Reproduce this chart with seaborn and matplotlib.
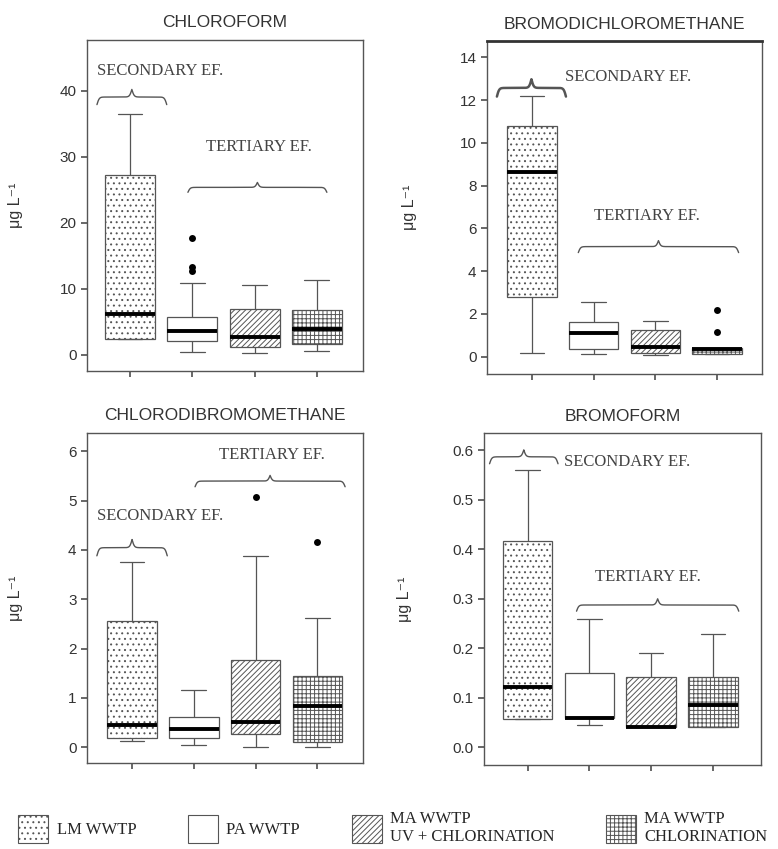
# -*- coding: utf-8 -*-
"""
Trihalomethanes in WWTP effluents: box plots per compound and plant.
Boxes are drawn from the five-number summaries read off the original figure.
"""

import numpy as np
import pandas as pd
import matplotlib
matplotlib.use('Agg')
import matplotlib.pyplot as plt
from matplotlib.patches import Patch
import seaborn as sns

# --- GENERAL SETTINGS ---
sns.set_theme(style='ticks')
plt.rcParams['font.family'] = ['Liberation Sans', 'DejaVu Sans']
plt.rcParams['hatch.linewidth'] = 0.7
serif = ['Liberation Serif', 'DejaVu Serif']
line_col = '#555555'

# --- DATA ---
plants = ['LM', 'PA', 'MA_UV', 'MA_CL']
legend_labels = ['LM WWTP', 'PA WWTP', 'MA WWTP\nUV + CHLORINATION', 'MA WWTP\nCHLORINATION']
hatches = ['...', '', '//////', '++++']

# each row: [lower whisker, Q1, median, Q3, upper whisker]  (µg/L)
chloroform = [[2.3, 2.3, 6.1, 27.2, 36.5],
              [0.45, 2.0, 3.5, 5.7, 10.9],
              [0.2, 1.1, 2.6, 6.9, 10.6],
              [0.6, 1.6, 3.9, 6.7, 11.3]]
chloroform_out_plant = ['PA', 'PA', 'PA']
chloroform_out_value = [12.7, 13.2, 17.7]

bromodichloro = [[0.15, 2.8, 8.63, 10.8, 12.2],
                 [0.12, 0.37, 1.09, 1.6, 2.57],
                 [0.08, 0.19, 0.47, 1.25, 1.68],
                 [0.12, 0.12, 0.34, 0.39, 0.39]]
bromodichloro_out_plant = ['MA_CL', 'MA_CL']
bromodichloro_out_value = [1.17, 2.2]

chlorodibromo = [[0.12, 0.18, 0.45, 2.56, 3.75],
                 [0.05, 0.18, 0.37, 0.61, 1.15],
                 [0.0, 0.26, 0.52, 1.77, 3.87],
                 [0.0, 0.1, 0.84, 1.45, 2.62]]
chlorodibromo_out_plant = ['MA_UV', 'MA_CL']
chlorodibromo_out_value = [5.07, 4.17]

bromoform = [[0.058, 0.058, 0.121, 0.416, 0.56],
             [0.045, 0.06, 0.06, 0.151, 0.259],
             [0.04, 0.04, 0.04, 0.141, 0.191],
             [0.04, 0.04, 0.085, 0.141, 0.229]]
bromoform_out_plant = []
bromoform_out_value = []

# --- PANEL LAYOUT ---
panels = [
    dict(title='CHLOROFORM', stats=chloroform,
         out=(chloroform_out_plant, chloroform_out_value),
         rect=[0.1118, 0.5630, 0.3548, 0.3899], xlim=(-0.69, 3.74),
         ylim=(-2.5, 47.7), yticks=np.arange(0, 41, 10), fmt='{:.0f}', ylab_x=-0.23,
         sec_text=(-0.53, 43.0, 'left'), sec_brace=(-0.53, 0.59, 37.9, 2.3, 1.0),
         ter_text=(2.07, 31.4), ter_brace=(0.93, 3.16, 24.6, 1.5)),
    dict(title='BROMODICHLOROMETHANE', stats=bromodichloro,
         out=(bromodichloro_out_plant, bromodichloro_out_value),
         rect=[0.626, 0.5595, 0.3535, 0.3922], xlim=(-0.73, 3.73),
         ylim=(-0.81, 14.77), yticks=np.arange(0, 15, 2), fmt='{:.0f}', ylab_x=-0.255,
         sec_text=(0.54, 13.1, 'left'), sec_brace=(-0.57, 0.55, 12.17, 0.81, 1.8),
         ter_text=(1.86, 6.58), ter_brace=(0.75, 3.35, 4.87, 0.56)),
    dict(title='CHLORODIBROMOMETHANE', stats=chlorodibromo,
         out=(chlorodibromo_out_plant, chlorodibromo_out_value),
         rect=[0.1118, 0.1013, 0.3548, 0.3887], xlim=(-0.73, 3.74),
         ylim=(-0.32, 6.37), yticks=np.arange(0, 7, 1), fmt='{:.0f}', ylab_x=-0.23,
         sec_text=(-0.57, 4.68, 'left'), sec_brace=(-0.57, 0.57, 3.88, 0.33, 1.0),
         ter_text=(2.27, 5.93), ter_brace=(1.02, 3.45, 5.28, 0.23)),
    dict(title='BROMOFORM', stats=bromoform,
         out=(bromoform_out_plant, bromoform_out_value),
         rect=[0.6221, 0.0989, 0.356, 0.391], xlim=(-0.71, 3.78),
         ylim=(-0.036, 0.635), yticks=np.arange(0, 0.61, 0.1), fmt='{:.1f}', ylab_x=-0.26,
         sec_text=(0.58, 0.5765, 'left'), sec_brace=(-0.62, 0.49, 0.573, 0.028, 1.0),
         ter_text=(1.94, 0.345), ter_brace=(0.79, 3.42, 0.275, 0.025)),
]


def draw_brace(ax, x0, x1, y0, height, lw=1.0):
    # curly brace pointing up: ends at y0, tip at y0 + height
    xs = np.linspace(x0, x1, 401)
    half = xs[:201]
    beta = 55.0
    s = 1 / (1 + np.exp(-beta * (half - half[0]))) + 1 / (1 + np.exp(-beta * (half - half[-1])))
    s = np.concatenate([s, s[-2::-1]])
    ax.plot(xs, y0 + (s - 0.5) * height, color=line_col, lw=lw, solid_capstyle='round')


fig = plt.figure(figsize=(7.78, 8.49), dpi=100)

for i, p in enumerate(panels):
    ax = fig.add_axes(p['rect'])
    df = pd.DataFrame({'plant': np.repeat(plants, 5), 'value': np.ravel(p['stats'])})

    sns.boxplot(data=df, x='plant', y='value', order=plants, ax=ax,
                whis=(0, 100), width=0.8, color='white', linecolor=line_col,
                linewidth=0.9, showfliers=False,
                medianprops={'color': 'black', 'linewidth': 2.8})
    for patch, h in zip(ax.patches, hatches):
        patch.set_hatch(h)

    out_plant, out_value = p['out']
    if out_plant:
        sns.stripplot(x=out_plant, y=out_value, order=plants, ax=ax,
                      jitter=False, color='black', size=5)

    # braces and group labels
    x0, x1, yb, hb, lwb = p['sec_brace']
    draw_brace(ax, x0, x1, yb, hb, lwb)
    x0, x1, yb, hb = p['ter_brace']
    draw_brace(ax, x0, x1, yb, hb)
    tx, ty, ha = p['sec_text']
    ax.text(tx, ty, 'SECONDARY EF.', ha=ha, va='center', fontsize=12,
            family=serif, color='#444444')
    tx, ty = p['ter_text']
    ax.text(tx, ty, 'TERTIARY EF.', ha='center', va='center', fontsize=12,
            family=serif, color='#444444')

    ax.set_xlim(*p['xlim'])
    ax.set_ylim(*p['ylim'])
    ax.set_yticks(p['yticks'])
    ax.set_yticklabels([p['fmt'].format(v) for v in p['yticks']])
    ax.set_xticks(range(len(plants)))
    ax.set_xticklabels([])
    ax.set_xlabel('')
    ax.set_ylabel('μg L⁻¹', fontsize=11.5, color='#333333')
    ax.yaxis.set_label_coords(p['ylab_x'], 0.5)
    ax.set_title(p['title'], fontsize=12.5, pad=9, color='#333333')
    ax.tick_params(direction='out', length=4, color=line_col, labelsize=11,
                   labelcolor='#333333')
    for sp in ax.spines.values():
        sp.set_color(line_col)
        sp.set_linewidth(1.0)
    if i == 1:
        ax.spines['top'].set_linewidth(2.0)
        ax.spines['top'].set_color('#333333')

# --- LEGEND ---
handles = [Patch(facecolor='white', edgecolor=line_col, hatch=h, linewidth=0.8)
           for h in hatches]
fig.legend(handles, legend_labels, loc='center', bbox_to_anchor=(0.505, 0.025),
           ncol=4, frameon=False, prop={'family': serif, 'size': 12},
           handlelength=1.8, handleheight=2.2, handletextpad=0.5,
           columnspacing=3.1)

fig.savefig('out.png', dpi=100)
